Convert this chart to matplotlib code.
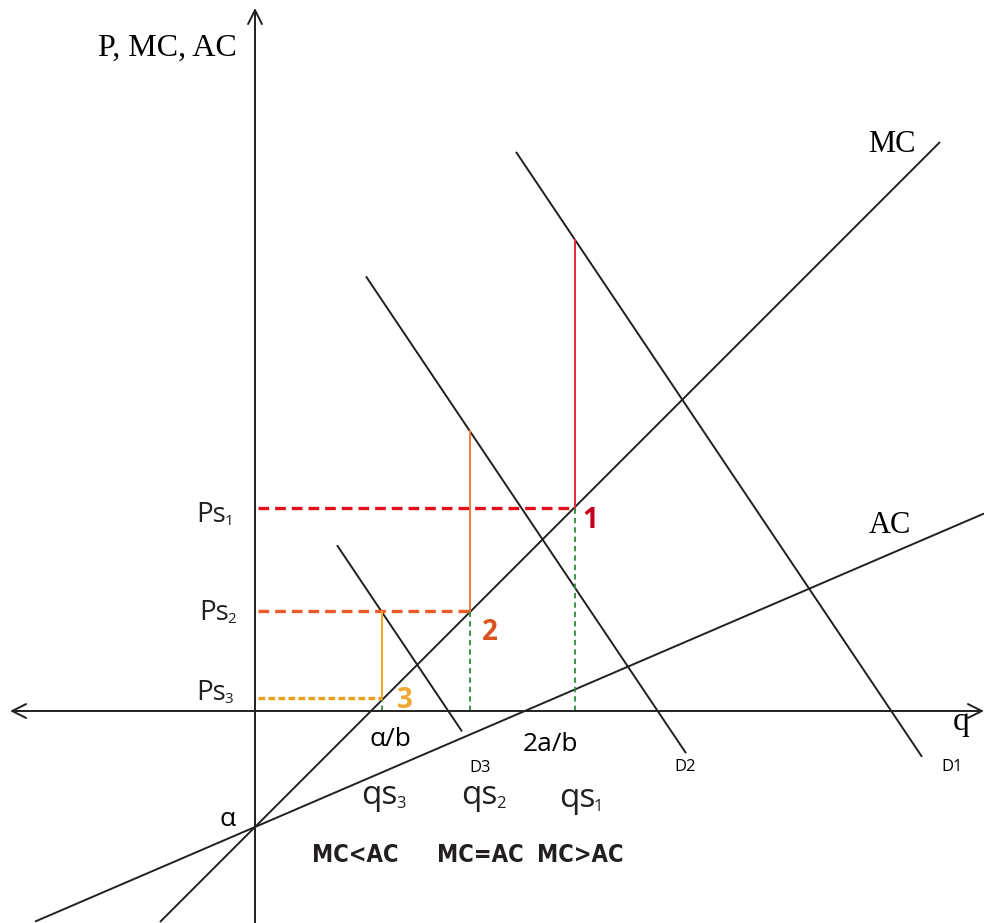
import matplotlib
matplotlib.use("Agg")
import matplotlib.pyplot as plt
import numpy as np

# ---------------- data (model units) ----------------
alpha = -1.16                      # common intercept of MC and AC
mc_slope = 1.0
ac_slope = 0.43
mc_range = [-0.95, 6.85]
ac_range = [-2.20, 7.29]

demand_names = ["D1", "D2", "D3"]
demand_intercepts = [9.48, 6.00, 2.88]
demand_slope = -1.49
demand_ranges = [[2.61, 6.67], [1.11, 4.31], [0.82, 2.07]]

qs_values = [3.20, 2.15, 1.27]       # qs1, qs2, qs3
ps_values = [2.03, 1.00, 0.13]       # Ps1, Ps2, Ps3
point_labels = ["1", "2", "3"]
price_labels = [("Ps", "1"), ("Ps", "2"), ("Ps", "3")]
qty_labels = [("qs", "1"), ("qs", "2"), ("qs", "3")]
regime_labels = ["MC>AC", "MC=AC", "MC<AC"]

# ---------------- styling ----------------
W, H = 984, 923
fig = plt.figure(figsize=(W / 100, H / 100), dpi=100)
ax = fig.add_axes([0, 0, 1, 1])
ax.set_xlim(-2.55, (W - 255) / 100)
ax.set_ylim(-(H - 711) / 100, 711 / 100)
ax.axis("off")


def px(x, y):
    """pixel position -> data position (for text placement)"""
    return (x - 255) / 100, (711 - y) / 100


SANS = ["Open Sans", "DejaVu Sans"]
SERIF = ["Liberation Serif", "DejaVu Serif"]
LINE = "#231f20"

# axes
ax.annotate("", xy=px(255, 8), xytext=px(255, 930),
            arrowprops=dict(arrowstyle="->,head_length=1.0,head_width=0.5",
                            lw=1.4, color=LINE, shrinkA=0, shrinkB=0))
ax.annotate("", xy=px(984, 711), xytext=px(10, 711),
            arrowprops=dict(arrowstyle="<->,head_length=1.0,head_width=0.5",
                            lw=1.4, color=LINE, shrinkA=0, shrinkB=0))

# MC and AC
q = np.array(mc_range)
ax.plot(q, alpha + mc_slope * q, color=LINE, lw=1.4, solid_capstyle="butt")
q = np.array(ac_range)
ax.plot(q, alpha + ac_slope * q, color=LINE, lw=1.4, solid_capstyle="butt")

# demand curves
for c, rng in zip(demand_intercepts, demand_ranges):
    q = np.array(rng)
    ax.plot(q, c + demand_slope * q, color=LINE, lw=1.4, solid_capstyle="butt")

# verticals / horizontals
hcolors = ["#e3101c", "#ea5a2a", "#eba01e"]
vcolors = ["#e8283c", "#ef7b3b", "#f5a623"]
hdash = [(0, (3.2, 1.8)), (0, (3.2, 1.8)), (0, (2.0, 1.0))]
green = "#2e8b3e"
for i, (qs, ps) in enumerate(zip(qs_values, ps_values)):
    c = demand_intercepts[i]
    top = c + demand_slope * qs
    ax.plot([qs, qs], [ps, top], color=vcolors[i], lw=1.4)
    ax.plot([qs, qs], [0, ps], color=green, lw=1.3, ls=(0, (3, 2.2)))
    ax.plot([0.03, qs], [ps, ps], color=hcolors[i], lw=2.4, ls=hdash[i])

# ---------------- text ----------------
def sub_label(x, y, main, sub, size, subsize, color="#231f20", ha="left"):
    t = ax.text(*px(x, y), main, fontsize=size, family=SANS, color=color,
                ha=ha, va="baseline")
    ax.annotate(sub, xy=(1, 0), xycoords=t, xytext=(-1.0, 0),
                textcoords="offset points", fontsize=subsize, family=SANS,
                color=color, ha="left", va="bottom")


sub_label(196, 522, *price_labels[0], 20, 11)
sub_label(199, 620, *price_labels[1], 20, 11)
sub_label(196, 700, *price_labels[2], 20, 11)

sub_label(361, 804, *qty_labels[2], 24, 12)
sub_label(461, 804, *qty_labels[1], 24, 12)
sub_label(559, 807, *qty_labels[0], 24, 12)

ax.text(*px(390, 746), "α/b", fontsize=19, family=SANS, ha="center", va="baseline")
ax.text(*px(551, 751), "2a/b", fontsize=19, family=SANS, ha="center", va="baseline")
ax.text(*px(228, 826), "α", fontsize=19, family=SANS, ha="center", va="baseline")

for name, (x, y) in zip(demand_names, [(952, 771), (685, 771), (480, 772)]):
    ax.text(*px(x, y), name, fontsize=12, family=SANS, ha="center", va="baseline")

for lab, x in zip(regime_labels, [580, 480, 355]):
    ax.text(*px(x, 862), lab, fontsize=17, family=["DejaVu Sans"],
            fontstretch="condensed", fontweight="bold", ha="center",
            va="baseline", color="#231f20")

pcolors = ["#c4001c", "#d9531e", "#f0a830"]
for lab, col, (x, y) in zip(point_labels, pcolors, [(590, 528), (490, 640), (405, 708)]):
    ax.text(*px(x, y), lab, fontsize=20, family=SANS, fontweight="bold",
            color=col, ha="center", va="baseline")

ax.text(*px(167, 56), "P, MC, AC", fontsize=23, family=SERIF, ha="center", va="baseline")
ax.text(*px(892, 152), "MC", fontsize=22, family=SERIF, ha="center", va="baseline")
ax.text(*px(890, 533), "AC", fontsize=22, family=SERIF, ha="center", va="baseline")
ax.text(*px(961, 730), "q", fontsize=24, family=SERIF, ha="center", va="baseline")

fig.savefig("out.png", dpi=100, facecolor="white")
